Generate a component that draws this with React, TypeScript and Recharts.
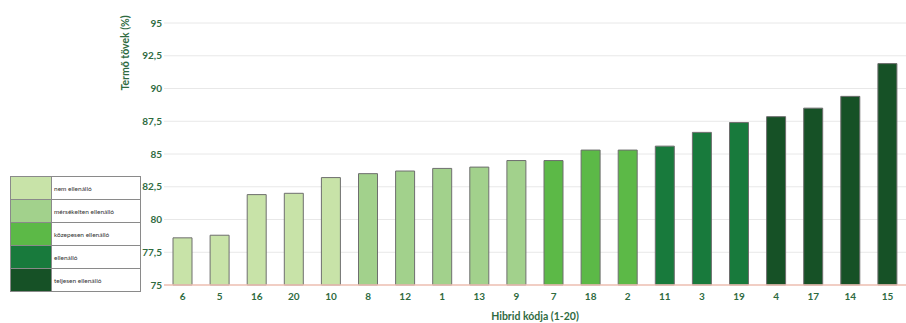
import { BarChart, Bar, XAxis, YAxis, CartesianGrid, Cell } from 'recharts';

// Hibrid kódok növekvő termő tő arány szerint
const hybrids = ['6', '5', '16', '20', '10', '8', '12', '1', '13', '9', '7', '18', '2', '11', '3', '19', '4', '17', '14', '15'];
const fertilePlants = [78.6, 78.8, 81.9, 82.0, 83.2, 83.5, 83.7, 83.9, 84.0, 84.5, 84.5, 85.3, 85.3, 85.6, 86.65, 87.4, 87.85, 88.5, 89.4, 91.9];
// 0 = nem ellenálló ... 4 = teljesen ellenálló
const resistance = [0, 0, 0, 0, 0, 1, 1, 1, 1, 1, 2, 2, 2, 3, 3, 3, 4, 4, 4, 4];

const classNames = ['nem ellenálló', 'mérsékelten ellenálló', 'közepesen ellenálló', 'ellenálló', 'teljesen ellenálló'];
const classColors = ['#c8e3a8', '#a2d18c', '#5cb947', '#187a3c', '#165126'];

const yTicks = [75, 77.5, 80, 82.5, 85, 87.5, 90, 92.5, 95];

const TEXT_GREEN = '#2f6b3f';
const FONT = 'Lato, "Open Sans", sans-serif';

const data = hybrids.map((code, i) => ({ code, value: fertilePlants[i], cls: resistance[i] }));

function ClassTable() {
  return (
    <table
      style={{
        position: 'absolute',
        left: 10,
        top: 176,
        width: 131,
        height: 116,
        borderCollapse: 'collapse',
        fontFamily: FONT,
        fontSize: 6.5,
        color: '#333',
      }}
    >
      <tbody>
        {classNames.map((name, i) => (
          <tr key={name}>
            <td style={{ width: 40, background: classColors[i], border: '1px solid #8a8a8a', padding: 0 }} />
            <td style={{ border: '1px solid #8a8a8a', padding: '0 2px', background: '#fff' }}>{name}</td>
          </tr>
        ))}
      </tbody>
    </table>
  );
}

export default function App() {
  return (
    <div style={{ position: 'absolute', left: 0, top: 0, width: 906, height: 323, background: '#fff' }}>
      <BarChart
        width={906}
        height={323}
        data={data}
        margin={{ top: 23, right: 0, bottom: 0, left: 0 }}
      >
        <CartesianGrid vertical={false} stroke="#e8e8e8" />
        <XAxis
          dataKey="code"
          height={38}
          tickLine={false}
          tickSize={0}
          tickMargin={8}
          axisLine={{ stroke: '#f0c2b4', strokeWidth: 1.5 }}
          tick={{ fontSize: 10, fontWeight: 700, fill: TEXT_GREEN, fontFamily: FONT }}
          label={{
            value: 'Hibrid kódja (1-20)',
            position: 'insideBottom',
            offset: 3,
            style: { fontSize: 10.5, fontWeight: 700, fill: TEXT_GREEN, fontFamily: FONT },
          }}
        />
        <YAxis
          width={164}
          domain={[75, 95]}
          ticks={yTicks}
          interval={0}
          axisLine={false}
          tickLine={false}
          tickSize={0}
          tickMargin={2}
          tickFormatter={(v: number) => String(v).replace('.', ',')}
          tick={{ fontSize: 10, fontWeight: 700, fill: TEXT_GREEN, fontFamily: FONT }}
          label={{
            content: () => (
              <text
                x={125}
                y={53}
                transform="rotate(-90, 125, 53)"
                textAnchor="middle"
                dominantBaseline="central"
                style={{ fontSize: 10.5, fontWeight: 700, fill: TEXT_GREEN, fontFamily: FONT }}
              >
                Termő tövek (%)
              </text>
            ),
          }}
        />
        <Bar dataKey="value" barSize={19} stroke="#6e6e6e" strokeWidth={1} isAnimationActive={false}>
          {data.map((d, i) => (
            <Cell key={`cell-${i}`} fill={classColors[d.cls]} />
          ))}
        </Bar>
      </BarChart>
      <ClassTable />
    </div>
  );
}
